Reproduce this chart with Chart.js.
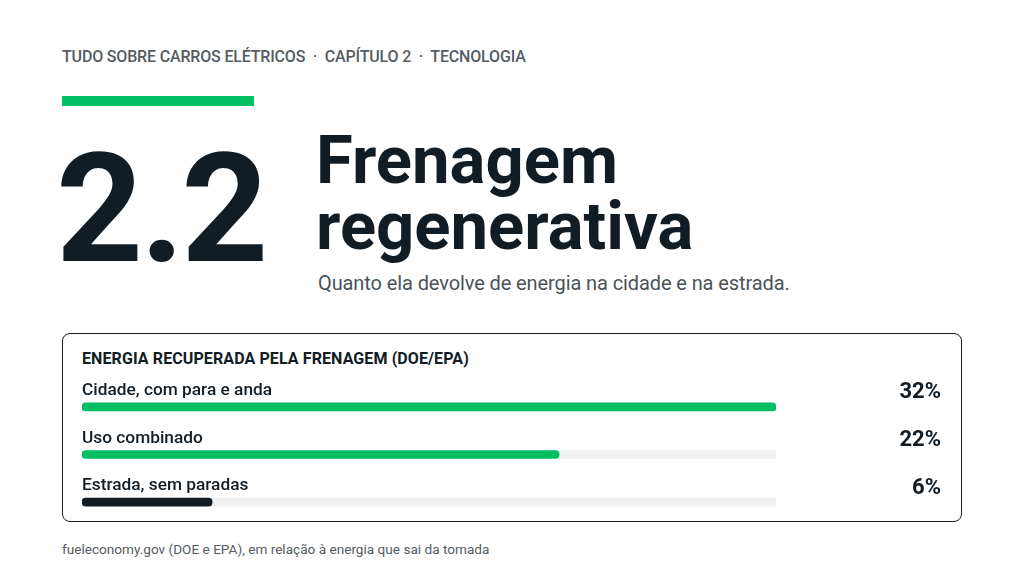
<!DOCTYPE html>
<html>
<head>
<meta charset="utf-8">
<script src="https://cdn.jsdelivr.net/npm/chart.js@4.4.1/dist/chart.umd.min.js"></script>
<style>
	body { margin: 0; width: 1024px; height: 576px; background: #fff; position: relative; overflow: hidden; font-family: Roboto, sans-serif; color: #111c24; }
	.kicker { position: absolute; left: 62px; top: 47px; font-size: 16px; font-weight: 500; color: #555c62; letter-spacing: -0.17px; white-space: nowrap; }
	.accent { position: absolute; left: 62px; top: 96px; width: 192px; height: 10px; background: #00bf63; }
	.num { position: absolute; left: 56px; top: 133px; font-size: 152px; font-weight: 700; letter-spacing: -3px; line-height: 1; }
	.title { position: absolute; left: 316px; top: 127px; font-size: 67px; font-weight: 700; line-height: 66px; letter-spacing: 0px; }
	.sub { position: absolute; left: 318px; top: 271px; font-size: 20px; color: #4b5359; letter-spacing: -0.1px; white-space: nowrap; }
	.box { position: absolute; left: 62px; top: 333px; width: 898px; height: 187px; border: 1.5px solid #111c24; border-radius: 8px; }
	.boxtitle { position: absolute; left: 82px; top: 349px; font-size: 16px; font-weight: 700; letter-spacing: 0.1px; white-space: nowrap; }
	#wrap { position: absolute; left: 62px; top: 372px; width: 900px; height: 158px; }
	.foot { position: absolute; left: 62px; top: 541px; font-size: 13.6px; color: #555c62; white-space: nowrap; }
</style>
</head>
<body>
<div class="kicker">TUDO SOBRE CARROS ELÉTRICOS &nbsp;·&nbsp; CAPÍTULO 2 &nbsp;·&nbsp; TECNOLOGIA</div>
<div class="accent"></div>
<div class="num">2.2</div>
<div class="title">Frenagem<br>regenerativa</div>
<div class="sub">Quanto ela devolve de energia na cidade e na estrada.</div>
<div class="box"></div>
<div class="boxtitle">ENERGIA RECUPERADA PELA FRENAGEM (DOE/EPA)</div>
<div id="wrap"><canvas id="bars"></canvas></div>
<div class="foot">fueleconomy.gov (DOE e EPA), em relação à energia que sai da tomada</div>

<script>
var categories = ['Cidade, com para e anda', 'Uso combinado', 'Estrada, sem paradas'];
var values = [32, 22, 6];
var valueLabels = ['32%', '22%', '6%'];
var scaleMax = 32;

var barColors = ['#00bf63', '#00bf63', '#111c24'];
var trackColor = '#eff1f2';

var rowLabels = {
	id: 'rowLabels',
	afterDatasetsDraw: function(chart) {
		var ctx = chart.ctx;
		var yScale = chart.scales.y;
		var area = chart.chartArea;
		ctx.save();
		ctx.fillStyle = '#111c24';
		ctx.textBaseline = 'middle';
		for (var i = 0; i < categories.length; i++) {
			var y = yScale.getPixelForValue(i);
			ctx.font = '500 17.3px Roboto';
			ctx.textAlign = 'left';
			ctx.fillText(categories[i], area.left, y - 16);
			ctx.font = '700 22px Roboto';
			ctx.textAlign = 'right';
			ctx.fillText(valueLabels[i], area.right + 165, y - 14);
		}
		ctx.restore();
	}
};

new Chart(document.getElementById('bars'), {
	type: 'bar',
	data: {
		labels: categories,
		datasets: [{
			data: values,
			backgroundColor: barColors,
			barThickness: 8,
			borderRadius: 4,
			borderSkipped: false,
			grouped: false
		}, {
			data: categories.map(function() { return scaleMax; }),
			backgroundColor: trackColor,
			barThickness: 8,
			borderRadius: 0,
			grouped: false
		}]
	},
	options: {
		indexAxis: 'y',
		maintainAspectRatio: false,
		responsive: true,
		animation: false,
		layout: {
			padding: { left: 20, right: 186, top: 11, bottom: 4 }
		},
		scales: {
			x: { display: false, min: 0, max: scaleMax },
			y: { display: false }
		},
		plugins: {
			legend: { display: false },
			tooltip: { enabled: false }
		}
	},
	plugins: [rowLabels]
});
</script>
</body>
</html>
